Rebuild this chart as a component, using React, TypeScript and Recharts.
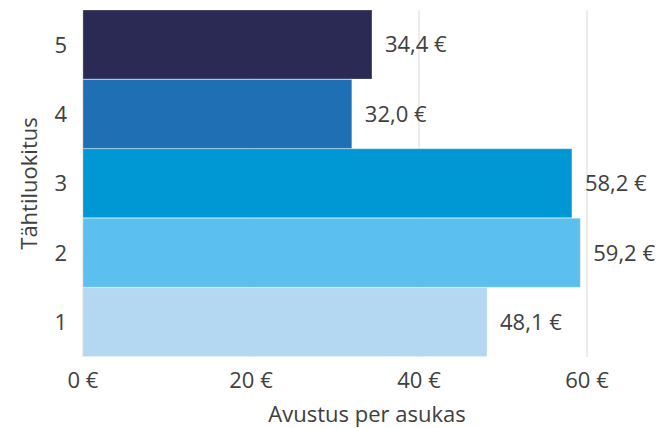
import { BarChart, Bar, XAxis, YAxis, CartesianGrid, Cell, LabelList } from "recharts"

// tähtiluokitus, top to bottom
const stars = ["5", "4", "3", "2", "1"]
const perResident = [34.4, 32.0, 58.2, 59.2, 48.1]
const barColors = ["#2b2a54", "#1f6fb5", "#0097d5", "#5bbff0", "#b5d8f2"]
const xTicks = [0, 20, 40, 60]

const data = stars.map((s, i) => ({ stars: s, value: perResident[i] }))

const textColor = "#404040"
const font = "'Open Sans', sans-serif"

const euro = (v: number) => `${v.toFixed(1).replace(".", ",")} €`

export default function App() {
  return (
    <div style={{ position: "absolute", left: 0, top: 0, fontFamily: font }}>
      <BarChart
        width={656}
        height={428}
        data={data}
        layout="vertical"
        barCategoryGap={0}
        margin={{ top: 10, right: 69, bottom: 0, left: 0 }}
      >
        <CartesianGrid horizontal={false} stroke="#d9d9d9" />
        <XAxis
          type="number"
          domain={[0, 60]}
          ticks={xTicks}
          tickFormatter={(v) => `${v} €`}
          axisLine={false}
          tickLine={false}
          tickSize={0}
          tickMargin={15}
          height={71}
          tick={{ fill: textColor, fontSize: 22, fontFamily: font }}
          label={{
            value: "Avustus per asukas",
            position: "insideBottom",
            dx: 32,
            offset: 6,
            fill: textColor,
            fontSize: 22,
            fontFamily: font,
          }}
        />
        <YAxis
          type="category"
          dataKey="stars"
          width={83}
          axisLine={false}
          tickLine={false}
          tickSize={0}
          tickMargin={16}
          tick={{ fill: textColor, fontSize: 22, fontFamily: font }}
          label={{
            content: ({ viewBox }: any) => {
              const cx = viewBox.x + 28
              const cy = viewBox.y + viewBox.height / 2
              return (
                <text
                  x={cx}
                  y={cy}
                  transform={`rotate(-90, ${cx}, ${cy})`}
                  textAnchor="middle"
                  dominantBaseline="central"
                  fill={textColor}
                  fontSize={22}
                  fontFamily={font}
                >
                  Tähtiluokitus
                </text>
              )
            },
          }}
        />
        <Bar dataKey="value" isAnimationActive={false} stroke="#ffffff" strokeOpacity={0.25} strokeWidth={1}>
          {data.map((_, i) => (
            <Cell key={`cell-${i}`} fill={barColors[i]} />
          ))}
          <LabelList
            dataKey="value"
            position="right"
            offset={13}
            formatter={(v: any) => euro(Number(v))}
            fill={textColor}
            fontSize={22}
            fontFamily={font}
          />
        </Bar>
      </BarChart>
    </div>
  )
}
